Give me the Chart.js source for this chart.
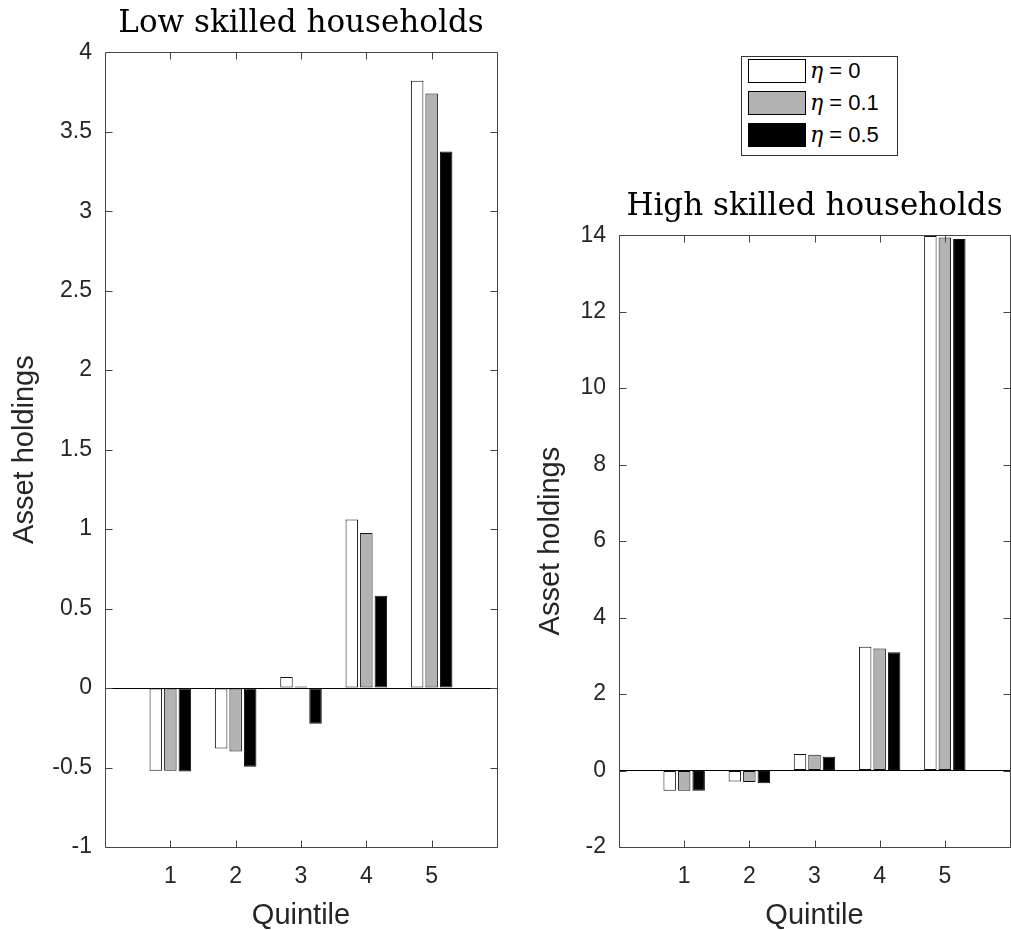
<!DOCTYPE html>
<html>
<head>
<meta charset="utf-8">
<script src="https://cdn.jsdelivr.net/npm/chart.js@4.4.1/dist/chart.umd.min.js"></script>
<style>
  body{margin:0;background:#fff;width:1011px;height:930px;position:relative;overflow:hidden}
  #left{position:absolute;left:0;top:0}
  #right{position:absolute;left:511px;top:0}
  #legend{position:absolute;left:741px;top:56px;width:155px;height:98px;border:1px solid #333;background:#fff;
    font-family:'Liberation Sans',Arial,sans-serif;font-size:22px;color:#000}
  .item{position:absolute;left:6px;height:24px;display:flex;align-items:center;white-space:nowrap}
  .sw{box-sizing:border-box;width:58px;height:24px;border:1px solid #000;margin-right:4px}
  .eta{font-family:'DejaVu Serif',serif;font-style:italic}
</style>
</head>
<body>
<canvas id="left" width="500" height="930"></canvas>
<canvas id="right" width="500" height="930"></canvas>
<div id="legend"></div>
<script>
// data
const quintiles = ['1', '2', '3', '4', '5'];
const etas = ['0', '0.1', '0.5'];
const fills = ['#ffffff', '#b3b3b3', '#000000'];

const lowEta0  = [-0.52, -0.38, 0.07, 1.06, 3.82];
const lowEta01 = [-0.52, -0.40, 0.01, 0.975, 3.74];
const lowEta05 = [-0.525, -0.495, -0.225, 0.58, 3.375];

const highEta0  = [-0.53, -0.29, 0.43, 3.24, 13.98];
const highEta01 = [-0.53, -0.30, 0.41, 3.19, 13.94];
const highEta05 = [-0.53, -0.335, 0.36, 3.09, 13.90];

const lowTicks = [-1, 4, 0.5];    // min, max, step
const highTicks = [-2, 14, 2];

const sans = "'Liberation Sans', Arial, sans-serif";
const serif = "'DejaVu Serif', serif";

// matlab style box with inward ticks
const boxTicks = {
  id: 'boxTicks',
  afterDraw(chart){
    const {ctx, chartArea: a, scales: {x, y}} = chart;
    const L = 7, r = v => Math.round(v) + 0.5;
    const l = r(a.left), rt = r(a.right), t = r(a.top), b = r(a.bottom);
    ctx.save();
    ctx.strokeStyle = '#444';
    ctx.lineWidth = 1;
    ctx.beginPath();
    ctx.rect(l, t, rt - l, b - t);
    x.ticks.forEach((tk, i) =>{
      if(!tk.label) return;
      const px = r(x.getPixelForTick(i));
      ctx.moveTo(px, b); ctx.lineTo(px, b - L);
      ctx.moveTo(px, t); ctx.lineTo(px, t + L);
    });
    y.ticks.forEach((tk, i) =>{
      const py = r(y.getPixelForTick(i));
      ctx.moveTo(l, py); ctx.lineTo(l + L, py);
      ctx.moveTo(rt, py); ctx.lineTo(rt - L, py);
    });
    ctx.stroke();
    ctx.restore();
  }
};

function pad(arr){ return [null, ...arr, null]; }

function barConfig(title, series, ticks, o){
  return {
    type: 'bar',
    data: {
      labels: ['', ...quintiles, ''],
      datasets: series.map((s, i) => ({
        label: 'η = ' + etas[i],
        data: pad(s),
        backgroundColor: fills[i],
        borderColor: '#111',
        borderWidth: 1,
        borderSkipped: false,
        categoryPercentage: 0.667,
        barPercentage: 0.86
      }))
    },
    options: {
      responsive: false,
      animation: false,
      layout: { padding: { top: o.top, right: o.right, left: 0, bottom: 0 } },
      plugins: {
        legend: { display: false },
        tooltip: { enabled: false },
        title: {
          display: true, text: title, fullSize: false, color: '#000',
          font: { family: serif, size: 31, weight: 'normal', lineHeight: 1.2 },
          padding: { top: 5, bottom: 10 }
        }
      },
      scales: {
        x: {
          offset: false,
          grid: { display: true, drawOnChartArea: false, drawTicks: true, tickLength: 16, tickColor: 'rgba(0,0,0,0)' },
          border: { display: false },
          ticks: { color: '#262626', font: { family: sans, size: 23 }, padding: 0, maxRotation: 0, autoSkip: false },
          title: { display: true, text: 'Quintile', color: '#262626', font: { family: sans, size: 29, lineHeight: 1 }, padding: 0 },
          afterFit(s){ s.height = 83; }
        },
        y: {
          min: ticks[0], max: ticks[1],
          grid: {
            drawTicks: false,
            color: c => c.tick && c.tick.value === 0 ? '#000' : 'rgba(0,0,0,0)'
          },
          border: { display: false },
          ticks: {
            stepSize: ticks[2], color: '#262626', font: { family: sans, size: 23 }, padding: 13,
            callback: v => String(Math.round(v * 10) / 10)
          },
          title: { display: true, text: 'Asset holdings', color: '#262626', font: { family: sans, size: 29, lineHeight: 1 }, padding: { top: o.ytitle, bottom: 0 } },
          afterFit(s){ s.width = o.yw; }
        }
      }
    },
    plugins: [boxTicks]
  };
}

const lowChart = new Chart(document.getElementById('left'),
  barConfig('Low skilled households', [lowEta0, lowEta01, lowEta05], lowTicks, { top: 0, right: 3, yw: 105, ytitle: 10 }));
const highChart = new Chart(document.getElementById('right'),
  barConfig('High skilled households', [highEta0, highEta01, highEta05], highTicks, { top: 183, right: 1, yw: 108, ytitle: 25 }));

// legend box built from the chart's datasets
const lg = document.getElementById('legend');
highChart.data.datasets.forEach((ds, i) =>{
  const it = document.createElement('div');
  it.className = 'item';
  it.style.top = (2 + i * 32) + 'px';
  const sw = document.createElement('div');
  sw.className = 'sw';
  sw.style.background = ds.backgroundColor;
  const tx = document.createElement('span');
  tx.innerHTML = '<span class="eta">η</span> = ' + etas[i];
  it.appendChild(sw);
  it.appendChild(tx);
  lg.appendChild(it);
});
</script>
</body>
</html>
